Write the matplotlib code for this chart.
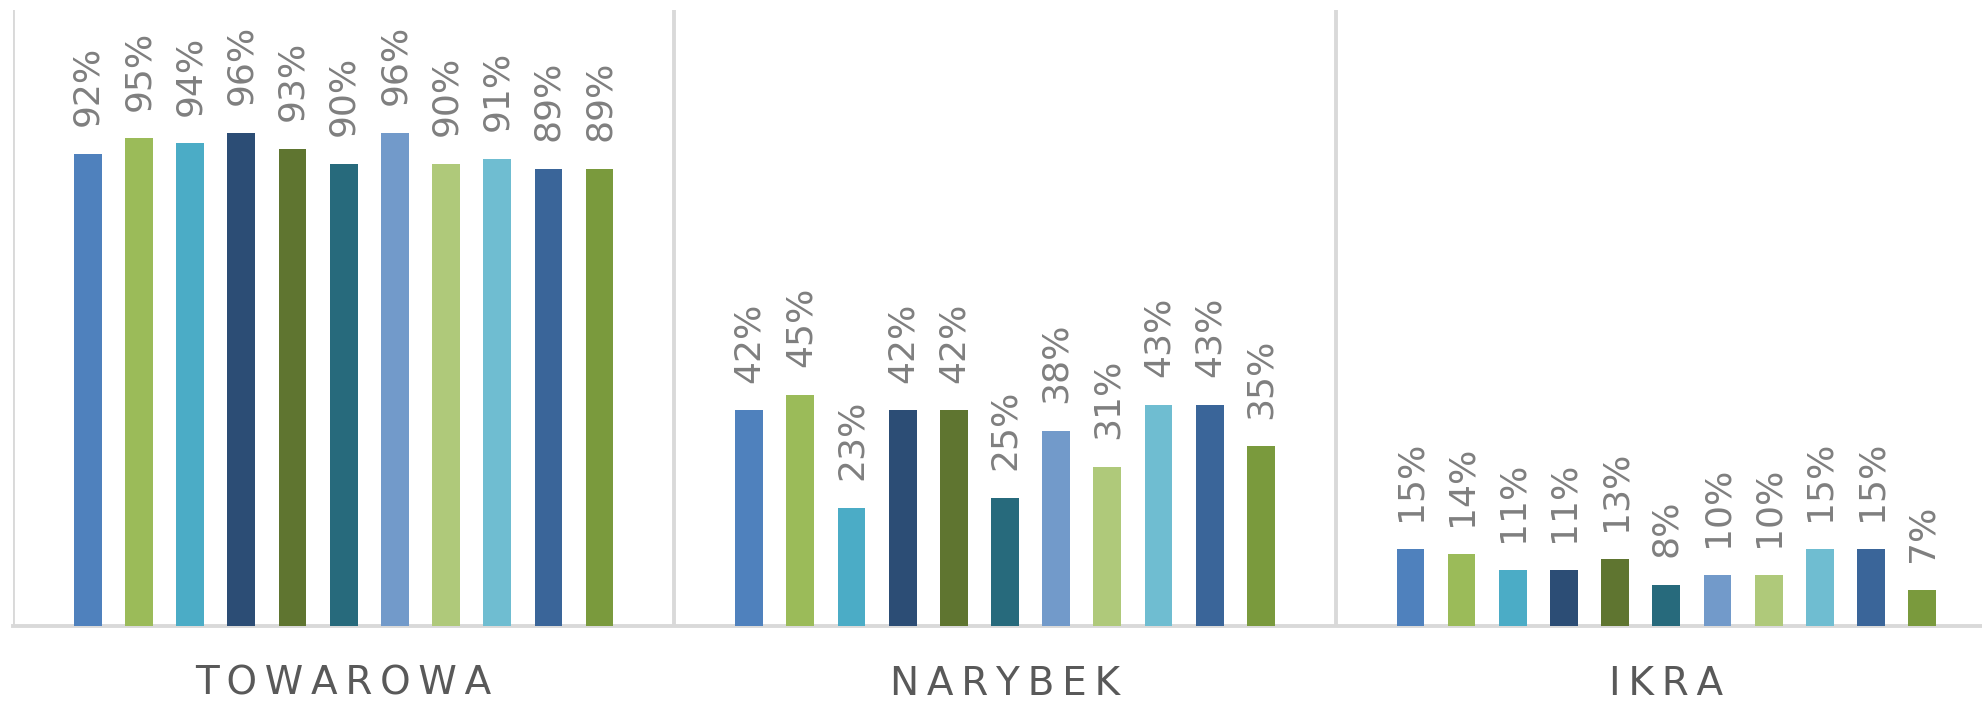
import numpy as np
import matplotlib.pyplot as plt

categories = ["TOWAROWA", "NARYBEK", "IKRA"]
towarowa = [92, 95, 94, 96, 93, 90, 96, 90, 91, 89, 89]
narybek = [42, 45, 23, 42, 42, 25, 38, 31, 43, 43, 35]
ikra = [15, 14, 11, 11, 13, 8, 10, 10, 15, 15, 7]

colors = ["#4F81BD", "#9BBB59", "#4BACC6", "#2C4D75", "#5F7530", "#276A7C",
          "#729ACA", "#AFC97A", "#6FBDD1", "#3A6599", "#7A9A3D"]

grid_color = "#D9D9D9"
label_color = "#7F7F7F"
cat_color = "#595959"

fig = plt.figure(figsize=(19.82, 7.02), dpi=100)
ax = fig.add_axes([13 / 1982, 76 / 702, (1997 - 13) / 1982, (626 - 10) / 702])

groups = [towarowa, narybek, ikra]
x = np.arange(len(categories))
n = len(colors)
step = 0.0774
width = 0.042

for i in range(n):
    vals = np.array([g[i] for g in groups]) / 100
    xs = x + (i - (n - 1) / 2) * step
    ax.bar(xs, vals, width, color=colors[i], zorder=3)
    for xx, v in zip(xs, vals):
        ax.annotate(f"{round(v * 100)}%", (xx, v), xytext=(0, 20),
                    textcoords="offset points", rotation=90,
                    ha="center", va="bottom", fontsize=26, color=label_color)

ax.set_xlim(-0.5, 2.5)
ax.set_ylim(0, 1.2)

for b in [-0.5, 0.5, 1.5]:
    ax.axvline(b, color=grid_color, lw=2.8, zorder=1)

for s in ["top", "right", "left"]:
    ax.spines[s].set_visible(False)
ax.spines["bottom"].set_color(grid_color)
ax.spines["bottom"].set_linewidth(2.8)

ax.set_yticks([])
ax.set_xticks(x)
ax.set_xticklabels(["\u2009".join(c) for c in categories], fontsize=28, color=cat_color)
ax.tick_params(axis="x", length=0, pad=28)

fig.savefig("out.png", dpi=100)
